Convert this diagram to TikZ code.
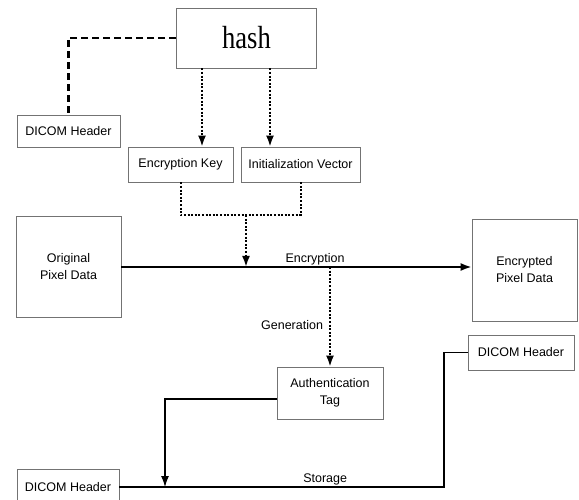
\documentclass[tikz,border=0pt]{standalone}
\usepackage{fontspec}
\setmainfont{Liberation Serif}
\setsansfont{Liberation Sans}
\usetikzlibrary{arrows.meta}

\begin{document}
\begin{tikzpicture}[x=1pt, y=-1pt,
    box/.style={draw=black!55, line width=0.8pt, inner sep=0pt, align=center,
        font=\sffamily\fontsize{12.5}{17}\selectfont},
    mainline/.style={line width=1.8pt},
    thinline/.style={line width=1.1pt},
    dashline/.style={line width=2.4pt, dash pattern=on 7pt off 4pt},
    dotline/.style={line width=2pt, dash pattern=on 2pt off 1.6pt},
    arr/.style={-{Latex[length=11pt,width=8pt]}},
    lbl/.style={font=\sffamily\fontsize{12.5}{14}\selectfont, inner sep=1pt}]

    % 画布大小
    \useasboundingbox (0,0) rectangle (579,500);

    % 方框
    \node[box, minimum width=140pt, minimum height=60pt] (hash) at (246.5,38)
        {\scalebox{0.83}[1]{\rmfamily\fontsize{32}{32}\selectfont hash}};
    \node[box, minimum width=103pt, minimum height=32pt] (hdrA) at (68.5,131) {DICOM Header};
    \node[box, minimum width=105pt, minimum height=35pt] (key) at (180.5,164.5) {Encryption Key};
    \node[box, minimum width=119pt, minimum height=35pt] (iv) at (300.5,164.5) {Initialization Vector};
    \node[box, minimum width=105pt, minimum height=101pt] (orig) at (68.5,267) {Original\\Pixel Data};
    \node[box, minimum width=105pt, minimum height=102pt] (enc) at (524.5,270) {Encrypted\\Pixel Data};
    \node[box, minimum width=106pt, minimum height=52pt] (tag) at (330,393) {Authentication\\Tag};
    \node[box, minimum width=106pt, minimum height=35pt] (hdrB) at (521,352.5) {DICOM Header};
    \node[box, minimum width=102pt, minimum height=36pt] (hdrC) at (68,487) {DICOM Header};

    % 辅助点
    \coordinate (k1) at (202,0);
    \coordinate (k2) at (270,0);
    \coordinate (join) at (246,215);
    \coordinate (drop) at (165,0);
    \coordinate (rise) at (444,0);

    % hash 到各方框
    \draw[dashline] (hash.west) -| (hdrA.north);
    \draw[dotline, arr] (hash.south -| k1) -- (key.north -| k1);
    \draw[dotline, arr] (hash.south -| k2) -- (iv.north -| k2);

    % 密钥与初始向量汇合
    \draw[dotline] (key.south) -- (key.south |- join) -- (iv.south |- join) -- (iv.south);
    \draw[dotline, arr] (join) -- (join |- orig.east);

    % 加密
    \draw[mainline, arr] (orig.east) -- (enc.west |- orig.east)
        node[lbl, above, pos=0.553] {Encryption};

    % 生成认证标签
    \draw[dotline, arr] (tag.north |- orig.east) -- (tag.north)
        node[lbl, left=5pt, pos=0.58] {Generation};

    % 存储
    \draw[thinline, arr] ([yshift=-6pt]tag.west) -| (drop |- hdrC.east);
    \draw[mainline] (hdrC.east) -- (rise |- hdrC.east)
        node[lbl, above, pos=0.634] {Storage}
        |- (hdrB.west);
\end{tikzpicture}
\end{document}
